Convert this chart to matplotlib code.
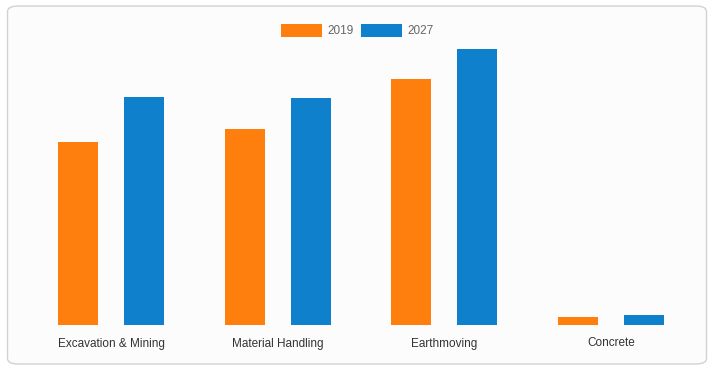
import numpy as np
from matplotlib import pyplot as plt
from matplotlib.patches import FancyBboxPatch, Rectangle

categories = ['Excavation & Mining', 'Material Handling', 'Earthmoving', 'Concrete']
series_names = ['2019', '2027']
values_2019 = [18.3, 19.6, 24.6, 0.8]
values_2027 = [22.8, 22.7, 27.6, 1.0]
colors = ['#ff7f0e', '#0e80cc']

W, H = 714, 371
plt.rcParams['font.family'] = ['Liberation Sans', 'DejaVu Sans']

fig = plt.figure(figsize=(W / 100, H / 100), dpi=100)
fig.set_facecolor('white')

# rounded card behind the chart
card = FancyBboxPatch((7.5 / W, 1 - 364 / H), 699 / W, 358 / H,
                      boxstyle='round,pad=0,rounding_size=0.015',
                      transform=fig.transFigure, facecolor='#fcfcfc',
                      edgecolor='#d2d2d2', linewidth=1.0, zorder=-5)
fig.patches.append(card)

ax = fig.add_axes([27.7 / W, 1 - 325 / H, 666.6 / W, 280 / H])
ax.set_zorder(5)
ax.set_facecolor('none')
for spine in ax.spines.values():
    spine.set_visible(False)

x = np.arange(len(categories))
bar_w = 0.24
offset = 0.198
ax.bar(x - offset, values_2019, width=bar_w, color=colors[0], zorder=2)
ax.bar(x + offset, values_2027, width=bar_w, color=colors[1], zorder=2)

ax.set_xlim(-0.5, len(categories) - 0.5)
ax.set_ylim(0, 28)
ax.set_yticks([])
ax.set_xticks(x)
ax.set_xticklabels(categories, fontsize=8.5, color='#333333')
ax.tick_params(axis='x', length=0, pad=9)

# legend drawn at the top centre
legend_items = [(281, 327), (361, 407)]
for (box_x, text_x), name, c in zip(legend_items, series_names, colors):
    fig.patches.append(Rectangle((box_x / W, 1 - 37 / H), 41 / W, 13 / H,
                                 transform=fig.transFigure, facecolor=c,
                                 edgecolor='none'))
    fig.text(text_x / W, 1 - 30.5 / H, name, fontsize=8.5, color='#666666',
             ha='left', va='center')

fig.savefig('out.png', dpi=100)
